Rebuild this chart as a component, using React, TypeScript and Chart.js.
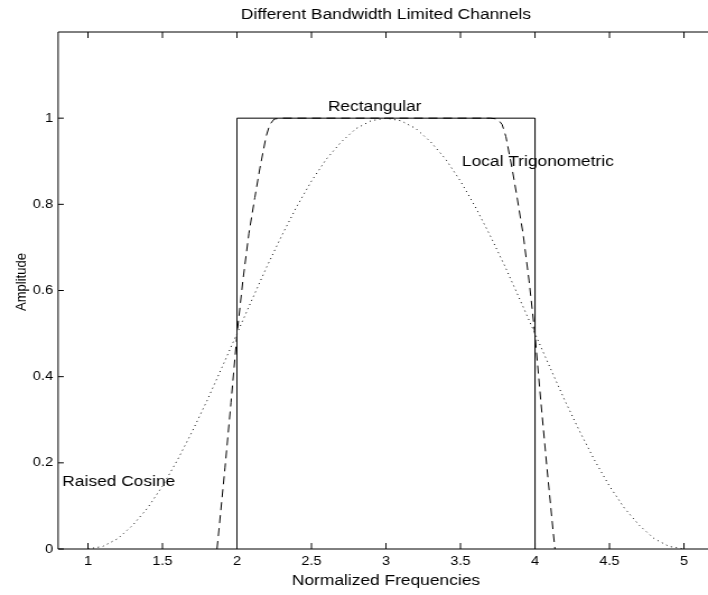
import React, { useEffect, useRef } from "react";
import { Chart, registerables } from "chart.js";

Chart.register(...registerables);

// ---------------- DATA ----------------
const chartTitle = "Different Bandwidth Limited Channels";
const xAxisTitle = "Normalized Frequencies";
const yAxisTitle = "Amplitude";

const xTickValues = [1, 1.5, 2, 2.5, 3, 3.5, 4, 4.5, 5];
const xTickLabels = ["1", "1.5", "2", "2.5", "3", "3.5", "4", "4.5", "5"];
const yTickValues = [0, 0.2, 0.4, 0.6, 0.8, 1];
const yTickLabels = ["0", "0.2", "0.4", "0.6", "0.8", "1"];

// Rectangular channel (solid)
const rectX = [2, 2, 4, 4];
const rectY = [0, 1, 1, 0];

// Local trigonometric channel (dashed)
const trigX = [1.866, 1.879, 1.92, 1.96, 2.0, 2.04, 2.08, 2.12, 2.154, 2.195, 2.22, 2.25, 2.3, 3.0, 3.7, 3.75, 3.78, 3.805, 3.846, 3.88, 3.92, 3.96, 4.0, 4.04, 4.08, 4.121, 4.134];
const trigY = [0, 0.044, 0.19, 0.34, 0.497, 0.624, 0.732, 0.816, 0.884, 0.957, 0.985, 0.998, 1, 1, 1, 0.998, 0.985, 0.957, 0.884, 0.816, 0.732, 0.624, 0.497, 0.34, 0.19, 0.044, 0];

// Raised cosine channel (dotted)
const cosX = [1.0, 1.1, 1.2, 1.3, 1.4, 1.5, 1.6, 1.7, 1.8, 1.9, 2.0, 2.1, 2.2, 2.3, 2.4, 2.5, 2.6, 2.7, 2.8, 2.9, 3.0, 3.1, 3.2, 3.3, 3.4, 3.5, 3.6, 3.7, 3.8, 3.9, 4.0, 4.1, 4.2, 4.3, 4.4, 4.5, 4.6, 4.7, 4.8, 4.9, 5.0];
const cosY = [0, 0.006, 0.024, 0.055, 0.095, 0.146, 0.206, 0.273, 0.345, 0.422, 0.5, 0.578, 0.655, 0.727, 0.794, 0.854, 0.905, 0.945, 0.976, 0.994, 1, 0.994, 0.976, 0.945, 0.905, 0.854, 0.794, 0.727, 0.655, 0.578, 0.5, 0.422, 0.345, 0.273, 0.206, 0.146, 0.095, 0.055, 0.024, 0.006, 0];

// Text annotations (label, x, y in data units)
const annotationLabels = ["Rectangular", "Local Trigonometric", "Raised Cosine"];
const annotationX = [2.61, 3.51, 0.828];
const annotationY = [1.027, 0.898, 0.156];

const xMin = 0.8;
const xMax = 5.2;
const yMin = 0;
const yMax = 1.2;

// ---------------- LAYOUT ----------------
const VIEW_W = 708;
const VIEW_H = 595;
const BASE_W = 632; // drawn width, stretched horizontally to VIEW_W
const STRETCH = VIEW_W / BASE_W;
const CANVAS_W = 640;
const FONT = "'Liberation Sans', Arial, Helvetica, sans-serif";

const toPts = (xs: number[], ys: number[]) => xs.map((x, i) => ({ x, y: ys[i] }));

const decorPlugin = {
  id: "decor",
  afterDraw(chart: any) {
    const { ctx, chartArea: a, scales } = chart;
    const xs = scales.x;
    const ys = scales.y;
    ctx.save();
    ctx.strokeStyle = "#000";
    ctx.lineWidth = 1;
    ctx.setLineDash([]);
    ctx.beginPath();
    ctx.rect(a.left, a.top, a.right - a.left, a.bottom - a.top);
    ctx.stroke();

    ctx.beginPath();
    for (const v of xTickValues) {
      const px = xs.getPixelForValue(v);
      ctx.moveTo(px, a.bottom);
      ctx.lineTo(px, a.bottom - 6);
      ctx.moveTo(px, a.top);
      ctx.lineTo(px, a.top + 6);
    }
    for (const v of yTickValues) {
      const py = ys.getPixelForValue(v);
      ctx.moveTo(a.left, py);
      ctx.lineTo(a.left + 5, py);
      ctx.moveTo(a.right, py);
      ctx.lineTo(a.right - 5, py);
    }
    ctx.stroke();

    ctx.fillStyle = "#000";
    // title
    ctx.font = `15.5px ${FONT}`;
    ctx.textAlign = "center";
    ctx.textBaseline = "middle";
    const cx = (a.left + a.right) / 2;
    ctx.fillText(chartTitle, cx, 15);
    // x title
    ctx.fillText(xAxisTitle, cx, 581);
    // y title
    ctx.save();
    ctx.font = `13px ${FONT}`;
    ctx.translate(19.6, 282);
    ctx.rotate(-Math.PI / 2);
    ctx.fillText(yAxisTitle, 0, 0);
    ctx.restore();

    // annotations
    ctx.font = `15.5px ${FONT}`;
    ctx.textAlign = "left";
    ctx.textBaseline = "middle";
    annotationLabels.forEach((t, i) => {
      ctx.fillText(t, xs.getPixelForValue(annotationX[i]), ys.getPixelForValue(annotationY[i]));
    });
    ctx.restore();
  },
};

export default function App() {
  const canvasRef = useRef<HTMLCanvasElement | null>(null);

  useEffect(() => {
    if (!canvasRef.current) return;
    const chart = new Chart(canvasRef.current, {
      type: "line",
      data: {
        datasets: [
          {
            label: "Rectangular",
            data: toPts(rectX, rectY),
            borderColor: "#000",
            borderWidth: 1,
            pointRadius: 0,
            tension: 0,
            fill: false,
          },
          {
            label: "Local Trigonometric",
            data: toPts(trigX, trigY),
            borderColor: "#000",
            borderWidth: 1,
            borderDash: [8, 5],
            pointRadius: 0,
            tension: 0,
            fill: false,
          },
          {
            label: "Raised Cosine",
            data: toPts(cosX, cosY),
            borderColor: "#000",
            borderWidth: 1,
            borderDash: [1, 3.5],
            pointRadius: 0,
            tension: 0,
            fill: false,
          },
        ],
      },
      options: {
        responsive: false,
        animation: false,
        events: [],
        layout: { padding: { top: 32, right: CANVAS_W - 637.15, left: 0, bottom: 0 } },
        plugins: {
          legend: { display: false },
          title: { display: false },
          tooltip: { enabled: false },
        },
        scales: {
          x: {
            type: "linear",
            min: xMin,
            max: xMax,
            grid: { display: false, drawTicks: false },
            border: { display: false },
            afterBuildTicks: (s: any) => {
              s.ticks = xTickValues.map((v) => ({ value: v }));
            },
            afterFit: (s: any) => {
              s.height = 46;
            },
            ticks: {
              padding: 5,
              maxRotation: 0,
              autoSkip: false,
              color: "#000",
              font: { family: FONT, size: 13 },
              callback: (_v: any, i: number) => xTickLabels[i],
            },
          },
          y: {
            type: "linear",
            min: yMin,
            max: yMax,
            grid: { display: false, drawTicks: false },
            border: { display: false },
            afterBuildTicks: (s: any) => {
              s.ticks = yTickValues.map((v) => ({ value: v }));
            },
            afterFit: (s: any) => {
              s.width = 51.9;
            },
            ticks: {
              padding: 4.5,
              autoSkip: false,
              color: "#000",
              font: { family: FONT, size: 13 },
              callback: (_v: any, i: number) => yTickLabels[i],
            },
          },
        },
      },
      plugins: [decorPlugin],
    });
    return () => chart.destroy();
  }, []);

  return (
    <div
      style={{
        position: "fixed",
        left: 0,
        top: 0,
        width: VIEW_W,
        height: VIEW_H,
        overflow: "hidden",
        background: "#fff",
      }}
    >
      <canvas
        ref={canvasRef}
        width={CANVAS_W}
        height={VIEW_H}
        style={{ display: "block", transform: `scaleX(${STRETCH})`, transformOrigin: "0 0" }}
      />
    </div>
  );
}
